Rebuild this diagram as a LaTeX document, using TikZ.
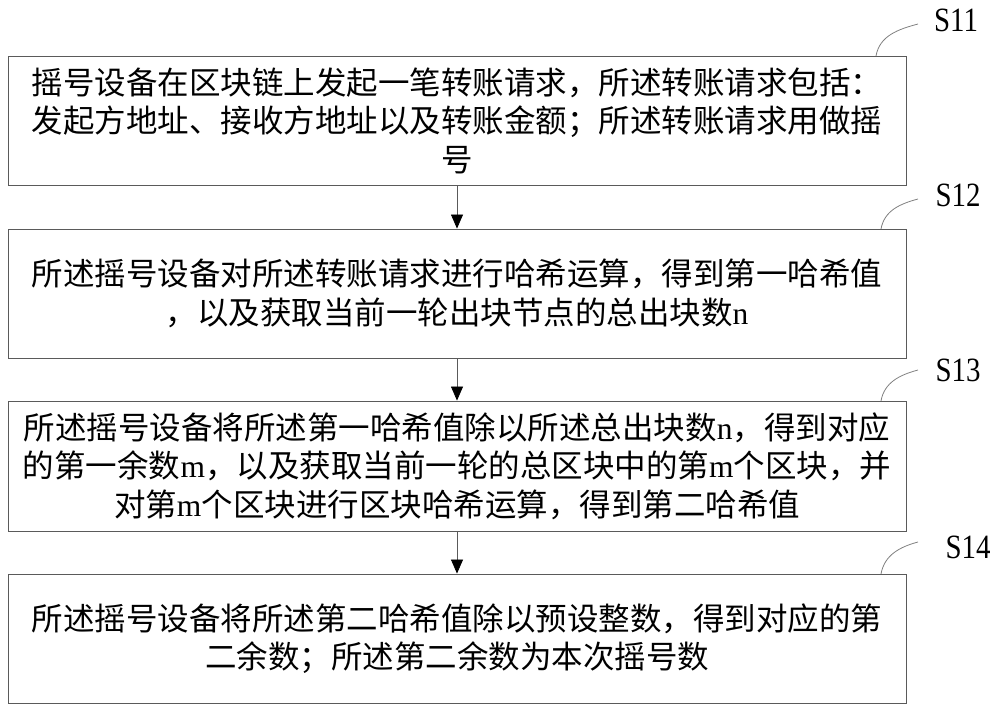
\documentclass[tikz,border=0pt]{standalone}
\usepackage{fontspec}
\setmainfont{Liberation Serif}
\newfontfamily\cjk{Noto Sans CJK SC}
\newfontfamily\labfont[FakeStretch=0.85]{Liberation Serif}
\usetikzlibrary{arrows.meta}
\newcommand{\lt}[1]{{\rmfamily #1}}
\definecolor{boxline}{HTML}{5A5A5A}
\definecolor{leadline}{HTML}{808080}
\tikzset{
  stepbox/.style={draw=boxline, line width=0.9pt, rectangle, minimum width=898pt,
    minimum height=129pt, inner sep=0pt, align=center,
    font={\cjk\fontsize{31.5}{38.5}\selectfont}},
  flowarrow/.style={draw=boxline, line width=0.7pt, -{Triangle[width=12pt,length=14pt,color=black,fill=black]}},
  leader/.style={draw=leadline, line width=0.8pt},
  steplabel/.style={font={\labfont\fontsize{34}{36}\selectfont}, inner sep=0pt}
}
\begin{document}
\begin{tikzpicture}[x=1pt,y=-1pt]
\useasboundingbox (0,0) rectangle (1000,712);
\node[stepbox] (b1) at (457,120.5) {摇号设备在区块链上发起一笔转账请求，所述转账请求包括：\\发起方地址、接收方地址以及转账金额；所述转账请求用做摇\\号};
\node[stepbox] (b2) at (457,293.5) {所述摇号设备对所述转账请求进行哈希运算，得到第一哈希值\\，以及获取当前一轮出块节点的总出块数\lt{n}};
\node[stepbox, minimum height=130pt] (b3) at (457,466) {所述摇号设备将所述第一哈希值除以所述总出块数\lt{n}，得到对应\\的第一余数\lt{m}，以及获取当前一轮的总区块中的第\lt{m}个区块，并\\对第\lt{m}个区块进行区块哈希运算，得到第二哈希值};
\node[stepbox] (b4) at (457,638.5) {所述摇号设备将所述第二哈希值除以预设整数，得到对应的第\\二余数；所述第二余数为本次摇号数};

\draw[flowarrow] (b1.south) -- (b2.north);
\draw[flowarrow] (b2.south) -- (b3.north);
\draw[flowarrow] (b3.south) -- (b4.north);

\node[steplabel] (s11) at (956,20) {S11};
\node[steplabel] (s12) at (958,195) {S12};
\node[steplabel] (s13) at (958,370) {S13};
\node[steplabel] (s14) at (968,547) {S14};

\coordinate (a1) at (876,56);
\coordinate (a2) at (881,229);
\coordinate (a3) at (881,401);
\coordinate (a4) at (881,574);
\coordinate (e1) at (918,24);
\coordinate (e2) at (918,199);
\coordinate (e3) at (918,370);
\coordinate (e4) at (918,542);
\draw[leader] (a1) to[out=80,in=195] (e1);
\draw[leader] (a2) to[out=80,in=195] (e2);
\draw[leader] (a3) to[out=80,in=195] (e3);
\draw[leader] (a4) to[out=80,in=195] (e4);
\end{tikzpicture}
\end{document}
